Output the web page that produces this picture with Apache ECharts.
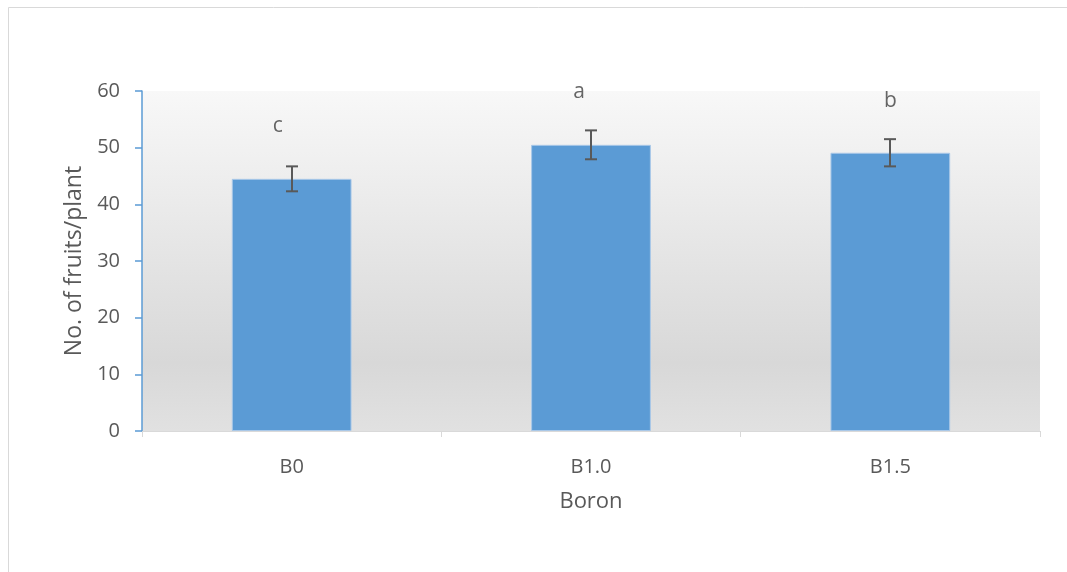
<!DOCTYPE html>
<html>
<head>
<meta charset="utf-8">
<script src="https://cdn.jsdelivr.net/npm/echarts@6/dist/echarts.min.js"></script>
<style>html,body{margin:0;padding:0;background:#fff;}#chart{width:1067px;height:572px;}</style>
</head>
<body>
<div id="chart"></div>
<script>
var categories = ['B0', 'B1.0', 'B1.5'];
var fruitsPerPlant = [44.5, 50.5, 49.1];
var errorValues = [2.2, 2.55, 2.4];
var letters = ['c', 'a', 'b'];
var letterHeights = [53.8, 59.8, 58.2];
var yTicks = [0, 10, 20, 30, 40, 50, 60];

var letterOffsetX = [-14, -12, 0];
var font = '"Open Sans", "Noto Sans", sans-serif';

var chart = echarts.init(document.getElementById('chart'), null, {renderer: 'canvas'});
chart.setOption({
  backgroundColor: '#ffffff',
  animation: false,
  graphic: [{
    type: 'rect', z: -10,
    shape: {x: 8.5, y: 7.5, width: 1200, height: 700},
    style: {fill: 'none', stroke: '#d9d9d9', lineWidth: 1}
  }],
  grid: {
    left: 142, right: 27, top: 91, bottom: 141,
    show: true, borderWidth: 0,
    backgroundColor: new echarts.graphic.LinearGradient(0, 0, 0, 1, [
      {offset: 0, color: '#f8f8f8'},
      {offset: 0.8, color: '#d8d8d8'},
      {offset: 1, color: '#e1e1e1'}
    ])
  },
  xAxis: {
    type: 'category',
    data: categories,
    boundaryGap: true,
    name: 'Boron',
    nameLocation: 'middle',
    nameGap: 60,
    nameTextStyle: {fontFamily: font, fontSize: 22, color: '#595959'},
    axisLine: {show: true, lineStyle: {color: '#d9d9d9', width: 1}},
    axisTick: {show: true, alignWithLabel: false, length: 6, lineStyle: {color: '#d9d9d9'}},
    axisLabel: {fontFamily: font, fontSize: 20, color: '#595959', margin: 26},
    splitLine: {show: false}
  },
  yAxis: {
    type: 'value',
    min: 0, max: 60, interval: 10,
    name: 'No. of fruits/plant',
    nameLocation: 'middle',
    nameGap: 55,
    nameTextStyle: {fontFamily: font, fontSize: 23, color: '#595959'},
    axisLine: {show: true, lineStyle: {color: '#5b9bd5', width: 1.5}},
    axisTick: {show: true, length: 7, lineStyle: {color: '#5b9bd5', width: 1.5}},
    axisLabel: {fontFamily: font, fontSize: 20, color: '#595959', margin: 22,
      formatter: function (v) { return yTicks.indexOf(v) >= 0 ? String(v) : ''; }},
    splitLine: {show: false}
  },
  series: [
    {
      type: 'bar',
      data: fruitsPerPlant,
      barWidth: '40%',
      itemStyle: {color: '#5b9bd5', borderColor: '#a9c8e8', borderWidth: 1},
      z: 2
    },
    {
      type: 'custom',
      z: 3,
      data: fruitsPerPlant.map(function (v, i) { return [i, v - errorValues[i], v + errorValues[i]]; }),
      renderItem: function (params, api) {
        var lo = api.coord([api.value(0), api.value(1)]);
        var hi = api.coord([api.value(0), api.value(2)]);
        var x = Math.round(lo[0]);
        var cap = 6;
        var style = {stroke: '#595959', lineWidth: 2, fill: 'none'};
        return {
          type: 'group',
          children: [
            {type: 'line', shape: {x1: x, y1: hi[1], x2: x, y2: lo[1]}, style: style},
            {type: 'line', shape: {x1: x - cap, y1: hi[1], x2: x + cap, y2: hi[1]}, style: style},
            {type: 'line', shape: {x1: x - cap, y1: lo[1], x2: x + cap, y2: lo[1]}, style: style}
          ]
        };
      }
    },
    {
      type: 'scatter',
      symbolSize: 0,
      z: 4,
      data: letterHeights.map(function (h, i) {
        return {value: [i, h], label: {offset: [letterOffsetX[i], 0]}};
      }),
      label: {
        show: true, position: 'inside',
        fontFamily: font, fontSize: 21, color: '#404040',
        formatter: function (p) { return letters[p.dataIndex]; }
      }
    }
  ]
});
</script>
</body>
</html>
